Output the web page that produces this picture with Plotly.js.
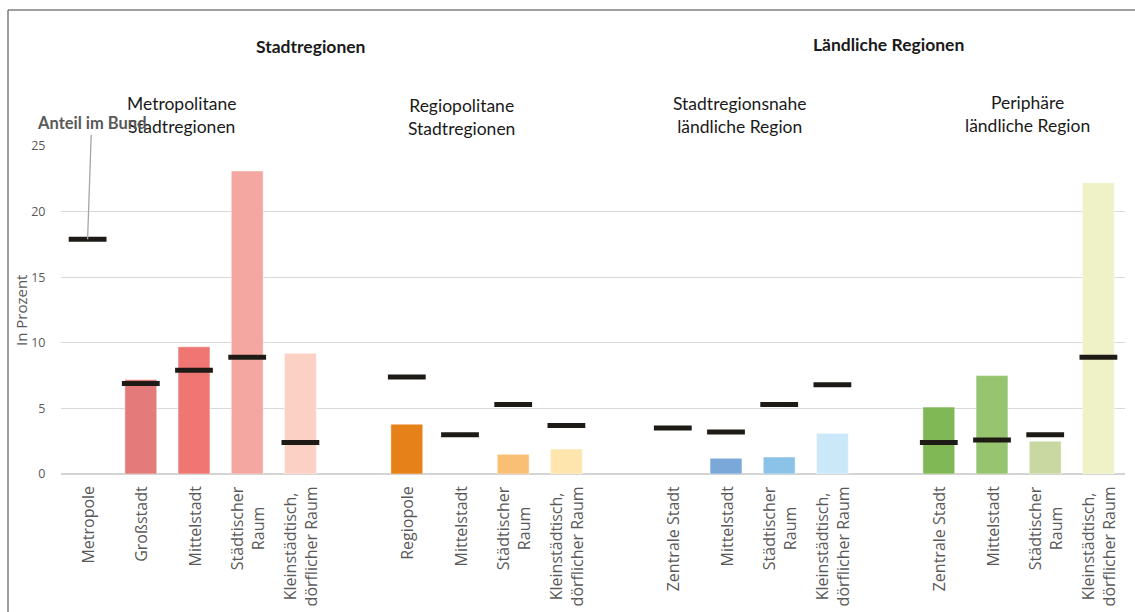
<!DOCTYPE html>
<html>
<head>
<meta charset="utf-8">
<script src="https://cdn.plot.ly/plotly-3.0.1.min.js"></script>
<style>html,body{margin:0;padding:0;background:#fff;}#chart{width:1135px;height:612px;}</style>
</head>
<body>
<div id="chart"></div>
<script>
// ---- data ----
const groupTitles = ["Metropolitane<br>Stadtregionen", "Regiopolitane<br>Stadtregionen", "Stadtregionsnahe<br>ländliche Region", "Periphäre<br>ländliche Region"];
const superTitles = ["Stadtregionen", "Ländliche Regionen"];
const categories = ["Metropole", "Großstadt", "Mittelstadt", "Städtischer<br>Raum", "Kleinstädtisch,<br>dörflicher Raum",
                    "Regiopole", "Mittelstadt", "Städtischer<br>Raum", "Kleinstädtisch,<br>dörflicher Raum",
                    "Zentrale Stadt", "Mittelstadt", "Städtischer<br>Raum", "Kleinstädtisch,<br>dörflicher Raum",
                    "Zentrale Stadt", "Mittelstadt", "Städtischer<br>Raum", "Kleinstädtisch,<br>dörflicher Raum"];
const groupIndex = [0,0,0,0,0, 1,1,1,1, 2,2,2,2, 3,3,3,3];
const shareRegion = [null, 7.2, 9.7, 23.1, 9.2, 3.8, null, 1.5, 1.9, null, 1.2, 1.3, 3.1, 5.1, 7.5, 2.5, 22.2];
const shareBund = [17.9, 6.9, 7.9, 8.9, 2.4, 7.4, 3.0, 5.3, 3.7, 3.5, 3.2, 5.3, 6.8, 2.4, 2.6, 3.0, 8.9];
const barColors = ["#e27b79", "#e27b79", "#ef7673", "#f4a7a0", "#fbd0c5",
                   "#e58118", "#f9bf75", "#f9bf75", "#fee5ae",
                   "#7aa8d8", "#7aa8d8", "#8bc3e8", "#cbe8f8",
                   "#80b856", "#96c46f", "#c8d8a0", "#eff2c7"];
const yTicks = [0, 5, 10, 15, 20, 25];
const bundLabel = "Anteil im Bund";
const yTitle = "In Prozent";

// one empty slot between groups
const xPos = categories.map((c, i) => i + groupIndex[i]);

const grey = "#595959";
const bars = {
  type: "bar", x: xPos, y: shareRegion, width: 0.6,
  marker: {color: barColors, line: {color: "rgba(255,255,255,0.5)", width: 1}},
  hoverinfo: "skip", showlegend: false
};
const marks = {
  type: "scatter", mode: "markers", x: xPos, y: shareBund,
  marker: {symbol: "line-ew", size: 27, line: {color: "#1e1b16", width: 5}},
  hoverinfo: "skip", showlegend: false
};

const annotations = [];
categories.forEach((c, i) => {
  annotations.push({
    x: xPos[i], y: 0, xref: "x", yref: "y", text: c, showarrow: false,
    textangle: -90, xanchor: "center", yanchor: "top", yshift: -10, align: "center",
    font: {family: "Open Sans, sans-serif", size: 16, color: grey}
  });
});
const gtPos = [[0.1128, 1.093], [0.376, 1.087], [0.638, 1.093], [0.908, 1.099]];
groupTitles.forEach((t, i) => {
  annotations.push({x: gtPos[i][0], y: gtPos[i][1], xref: "paper", yref: "paper", text: t,
    showarrow: false, xanchor: "center", yanchor: "middle", align: "center",
    font: {family: "Lato, Open Sans, sans-serif", size: 17.5, color: "#1a1a1a"}});
});
const stPos = [[0.235, 1.302], [0.778, 1.308]];
superTitles.forEach((t, i) => {
  annotations.push({x: stPos[i][0], y: stPos[i][1], xref: "paper", yref: "paper", text: "<b>" + t + "</b>",
    showarrow: false, xanchor: "center", yanchor: "middle",
    font: {family: "Lato, Open Sans, sans-serif", size: 17.5, color: "#1a1a1a"}});
});
annotations.push({
  x: xPos[0], y: shareBund[0], xref: "x", yref: "y", text: "<b>" + bundLabel + "</b>",
  showarrow: true, arrowhead: 0, arrowwidth: 1.3, arrowcolor: "#a6a6a6", ax: 4, ay: -116,
  font: {family: "Lato, Open Sans, sans-serif", size: 16.5, color: grey}
});
annotations.push({
  x: -0.0376, y: 0.5, xref: "paper", yref: "paper", text: yTitle, showarrow: false,
  textangle: -90, xanchor: "center", yanchor: "middle",
  font: {family: "Open Sans, sans-serif", size: 15, color: grey}
});

const layout = {
  width: 1135, height: 612,
  margin: {l: 61, r: 10, t: 146, b: 138},
  paper_bgcolor: "#fff", plot_bgcolor: "#fff",
  showlegend: false,
  xaxis: {range: [-0.5, 19.5], showticklabels: false, showgrid: false, zeroline: false, ticks: "", fixedrange: true},
  yaxis: {range: [0, 25], tickvals: yTicks, showgrid: true, gridcolor: "#d9d9d9", gridwidth: 1,
          zeroline: true, zerolinecolor: "#d4d4d4", zerolinewidth: 1.5,
          ticks: "outside", ticklen: 12, tickcolor: "rgba(0,0,0,0)",
          tickfont: {family: "Open Sans, sans-serif", size: 12.5, color: grey},
          automargin: false},
  annotations: annotations,
  shapes: [
    {type: "line", xref: "paper", yref: "paper", x0: -0.0498, x1: -0.0498, y0: -0.43, y1: 1.4146, line: {color: "#404040", width: 1}},
    {type: "line", xref: "paper", yref: "paper", x0: -0.0498, x1: 1.08, y0: 1.4146, y1: 1.4146, line: {color: "#404040", width: 1}}
  ]
};
Plotly.newPlot("chart", [bars, marks], layout, {staticPlot: true, displayModeBar: false});
</script>
</body>
</html>
